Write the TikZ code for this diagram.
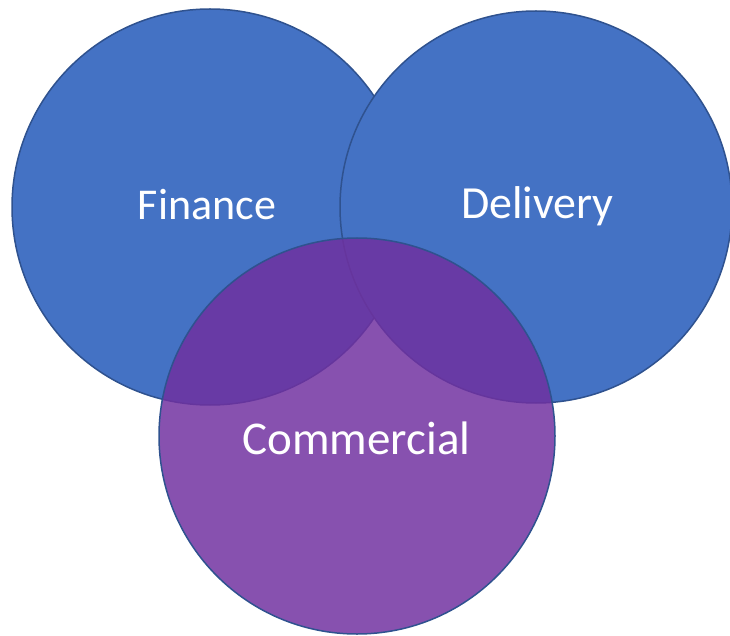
\documentclass[tikz,border=0pt]{standalone}
\usepackage{fontspec}
\setmainfont{Carlito}
\definecolor{setblue}{HTML}{4472C4}
\definecolor{setedge}{HTML}{2F528F}
\definecolor{setpurple}{HTML}{7030A0}
\begin{document}
\begin{tikzpicture}[x=1pt,y=-1pt,
  setcircle/.style={circle, minimum size=396pt, inner sep=0pt, draw=setedge, line width=1.5pt},
  setlabel/.style={text=white, inner sep=0pt, anchor=base}]
  \useasboundingbox (0,0) rectangle (730,636);
  \begin{scope}
    \clip (0,0) rectangle (730,636);
    % the two upper sets, Delivery drawn over Finance
    \node[setcircle, fill=setblue] (fin) at (210,207) {};
    \node[setcircle, fill=setblue, minimum size=392pt] (del) at (536,207) {};
    % the lower set, translucent so the overlaps darken
    \node[setcircle, fill=setpurple, fill opacity=0.84] (com) at (357,436) {};
  \end{scope}
  \node[setlabel, font=\fontsize{44}{44}\selectfont] (finlabel) at (207,219.5) {Finance};
  \node[setlabel, font=\fontsize{46}{46}\selectfont] (dellabel) at (537.5,218.5) {Delivery};
  \node[setlabel, font=\fontsize{47}{47}\selectfont] (comlabel) at (356.5,454) {Commercial};
\end{tikzpicture}
\end{document}
